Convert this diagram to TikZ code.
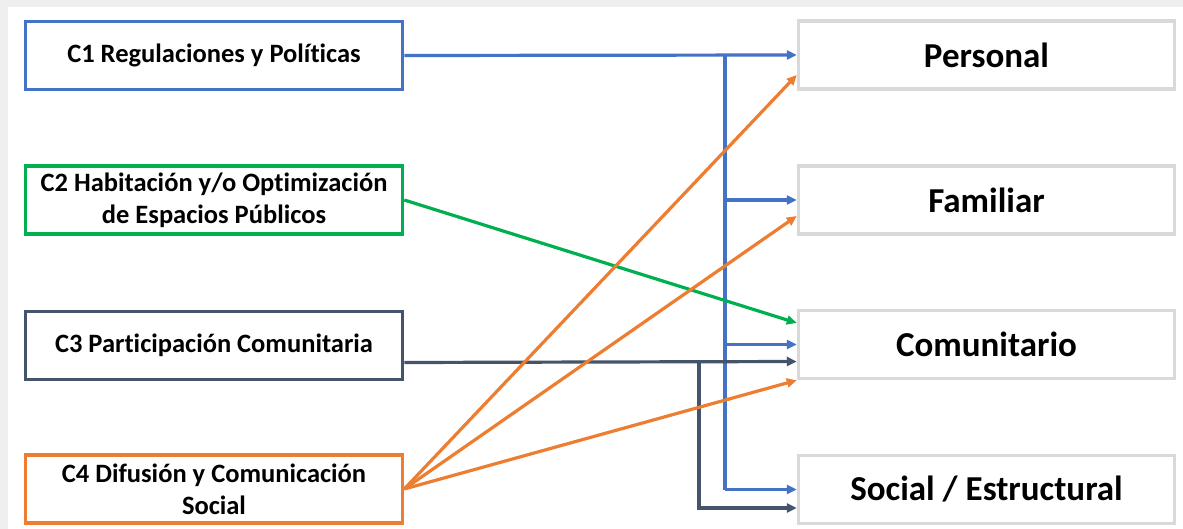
\documentclass[tikz,border=0pt]{standalone}
\usepackage{fontspec}
\setmainfont{Carlito}[Ligatures=NoCommon]
\usetikzlibrary{arrows.meta}

\definecolor{cBlue}{HTML}{4472C4}
\definecolor{cGreen}{HTML}{00B050}
\definecolor{cSlate}{HTML}{44546A}
\definecolor{cOrange}{HTML}{ED7D31}
\definecolor{cFrame}{HTML}{D9D9D9}
\definecolor{cEdge}{HTML}{EFEFEF}

\tikzset{
  srcbox/.style={draw, line width=3.5pt, fill=white, minimum width=377pt,
    minimum height=68pt, align=center, inner sep=2pt,
    font=\fontsize{26.5}{32}\selectfont\bfseries},
  dstbox/.style={draw=cFrame, line width=3.5pt, fill=white, minimum width=376pt,
    minimum height=68pt, align=center, inner sep=2pt,
    font=\fontsize{35}{40}\selectfont\bfseries},
  link/.style={line width=3.2pt, -{Triangle[length=10pt,width=9pt]}},
  trunk/.style={line width=3.2pt}
}

\begin{document}
\begin{tikzpicture}[x=1pt, y=-1pt]
  % page frame
  \fill[cEdge] (0,0) rectangle (1183,529);
  \fill[white] (8,7) rectangle (1183,529);
  \useasboundingbox (0,0) rectangle (1183,529);

  % source components
  \node[srcbox, draw=cBlue]   (c1) at (214,55.5) {C1 Regulaciones y Políticas};
  \node[srcbox, draw=cGreen]  (c2) at (214,200)  {C2 Habitación y/o Optimización\\de Espacios Públicos};
  \node[srcbox, draw=cSlate]  (c3) at (214,345.5) {C3 Participación Comunitaria};
  \node[srcbox, draw=cOrange] (c4) at (214,489)  {C4 Difusión y Comunicación\\Social};

  % target levels
  \node[dstbox] (per) at (986.5,55)    {Personal};
  \node[dstbox] (fam) at (986.5,200)   {Familiar};
  \node[dstbox] (com) at (986.5,344.5) {Comunitario};
  \node[dstbox] (soc) at (986.5,489.5) {Social / Estructural};

  % bus positions
  \coordinate (bx) at (725,0);
  \coordinate (sx) at (699,0);

  % C1: blue bus to every level
  \draw[link, cBlue] (c1.east) -- (per.west);
  \draw[trunk, cBlue] (c1.east -| bx) -- (bx |- soc.west);
  \draw[link, cBlue] (bx |- fam.west) -- (fam.west);
  \draw[link, cBlue] (bx |- com.west) -- (com.west);
  \draw[link, cBlue] (bx |- soc.west) -- (soc.west);

  % C3: slate bus
  \coordinate (c3o) at ([yshift=-17pt]c3.east);
  \coordinate (com3) at ([yshift=-17pt]com.west);
  \coordinate (soc3) at ([yshift=-18.5pt]soc.west);
  \draw[link, cSlate] (c3o) -- (com3);
  \draw[link, cSlate] (c3o -| sx) |- (soc3);

  % C2: green
  \draw[link, cGreen] (c2.east) -- ([yshift=21.5pt]com.west);

  % C4: orange fan
  \draw[link, cOrange] (c4.east) -- ([yshift=-20pt]per.west);
  \draw[link, cOrange] (c4.east) -- ([yshift=-16pt]fam.west);
  \draw[link, cOrange] (c4.east) -- (com.south west);
\end{tikzpicture}
\end{document}
